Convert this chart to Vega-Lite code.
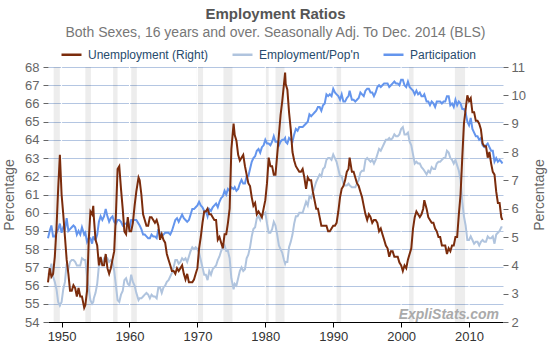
{
"$schema": "https://vega.github.io/schema/vega-lite/v6.json",
"width": 455, "height": 255,
"autosize": {"type": "none"},
"padding": {"left": 48, "top": 67, "right": 50, "bottom": 23},
"background": "#ffffff",
"title": {"text": "Employment Ratios", "subtitle": "Both Sexes, 16 years and over. Seasonally Adj. To Dec. 2014 (BLS)", "anchor": "middle", "frame": "group", "fontSize": 15, "fontWeight": "bold", "color": "#555555", "subtitleFontSize": 14, "subtitleColor": "#777777", "subtitlePadding": 4, "offset": 3},
"datasets": {
"rec": [
{"s":"1948-11","e":"1949-10"},{"s":"1953-07","e":"1954-05"},{"s":"1957-08","e":"1958-04"},{"s":"1960-04","e":"1961-02"},{"s":"1969-12","e":"1970-11"},{"s":"1973-11","e":"1975-03"},{"s":"1980-01","e":"1980-07"},{"s":"1981-07","e":"1982-11"},{"s":"1990-07","e":"1991-03"},{"s":"2001-03","e":"2001-11"},{"s":"2007-12","e":"2009-06"}],
"dec": [{"g":"1950-01"},{"g":"1960-01"},{"g":"1970-01"},{"g":"1980-01"},{"g":"1990-01"},{"g":"2000-01"},{"g":"2010-01"}],
"mark": [{"t":"ExpliStats.com"}],
"series": [
{"d":"1948-01","u":3.4,"p":58.6,"e":56.6},
{"d":"1948-04","u":3.9,"p":59.0,"e":56.7},
{"d":"1948-07","u":3.6,"p":59.3,"e":57.2},
{"d":"1948-10","u":3.7,"p":58.7,"e":56.5},
{"d":"1949-01","u":4.3,"p":58.7,"e":56.2},
{"d":"1949-04","u":5.3,"p":58.9,"e":55.8},
{"d":"1949-07","u":6.7,"p":59.1,"e":55.1},
{"d":"1949-10","u":7.9,"p":59.4,"e":54.9},
{"d":"1950-01","u":6.5,"p":58.9,"e":55.1},
{"d":"1950-04","u":5.8,"p":59.2,"e":55.8},
{"d":"1950-07","u":5.0,"p":59.1,"e":56.2},
{"d":"1950-10","u":4.2,"p":59.7,"e":57.2},
{"d":"1951-01","u":3.7,"p":59.0,"e":56.9},
{"d":"1951-04","u":3.1,"p":59.1,"e":57.3},
{"d":"1951-07","u":3.1,"p":59.2,"e":57.4},
{"d":"1951-10","u":3.3,"p":59.3,"e":57.4},
{"d":"1952-01","u":3.2,"p":59.2,"e":57.3},
{"d":"1952-04","u":2.9,"p":58.8,"e":57.1},
{"d":"1952-07","u":3.2,"p":59.0,"e":57.1},
{"d":"1952-10","u":2.9,"p":58.8,"e":57.1},
{"d":"1953-01","u":2.9,"p":59.2,"e":57.5},
{"d":"1953-05","u":2.5,"p":58.8,"e":57.4},
{"d":"1953-07","u":2.6,"p":58.9,"e":57.4},
{"d":"1953-10","u":3.1,"p":58.4,"e":56.5},
{"d":"1954-01","u":4.9,"p":58.6,"e":55.8},
{"d":"1954-04","u":5.9,"p":58.6,"e":55.2},
{"d":"1954-07","u":5.8,"p":58.3,"e":55.0},
{"d":"1954-09","u":6.1,"p":58.7,"e":55.1},
{"d":"1954-10","u":5.7,"p":58.6,"e":55.3},
{"d":"1955-01","u":4.9,"p":58.5,"e":55.6},
{"d":"1955-04","u":4.7,"p":58.8,"e":56.1},
{"d":"1955-07","u":4.0,"p":59.5,"e":57.1},
{"d":"1955-10","u":4.3,"p":59.8,"e":57.2},
{"d":"1956-01","u":4.0,"p":59.6,"e":57.2},
{"d":"1956-04","u":4.0,"p":59.8,"e":57.5},
{"d":"1956-07","u":4.4,"p":60.2,"e":57.6},
{"d":"1956-10","u":3.9,"p":59.8,"e":57.5},
{"d":"1957-01","u":3.7,"p":59.5,"e":57.3},
{"d":"1957-04","u":3.9,"p":59.7,"e":57.4},
{"d":"1957-07","u":4.2,"p":59.8,"e":57.3},
{"d":"1957-10","u":4.5,"p":59.5,"e":56.8},
{"d":"1958-01","u":5.8,"p":59.4,"e":56.0},
{"d":"1958-04","u":7.4,"p":59.6,"e":55.2},
{"d":"1958-07","u":7.5,"p":59.6,"e":55.1},
{"d":"1958-10","u":6.7,"p":59.5,"e":55.5},
{"d":"1959-01","u":6.0,"p":59.3,"e":55.7},
{"d":"1959-04","u":5.2,"p":59.4,"e":56.3},
{"d":"1959-07","u":5.1,"p":59.4,"e":56.4},
{"d":"1959-10","u":5.7,"p":59.5,"e":56.1},
{"d":"1960-01","u":5.2,"p":59.1,"e":56.0},
{"d":"1960-04","u":5.2,"p":59.6,"e":56.6},
{"d":"1960-07","u":5.5,"p":59.6,"e":56.2},
{"d":"1960-10","u":6.1,"p":59.6,"e":56.0},
{"d":"1961-01","u":6.6,"p":59.6,"e":55.6},
{"d":"1961-05","u":7.1,"p":59.4,"e":55.2},
{"d":"1961-07","u":7.0,"p":59.3,"e":55.3},
{"d":"1961-10","u":6.5,"p":59.1,"e":55.3},
{"d":"1962-01","u":5.8,"p":58.8,"e":55.4},
{"d":"1962-04","u":5.6,"p":58.8,"e":55.5},
{"d":"1962-07","u":5.4,"p":58.7,"e":55.6},
{"d":"1962-10","u":5.4,"p":58.6,"e":55.5},
{"d":"1963-01","u":5.7,"p":58.6,"e":55.3},
{"d":"1963-04","u":5.7,"p":58.8,"e":55.5},
{"d":"1963-07","u":5.6,"p":58.7,"e":55.4},
{"d":"1963-10","u":5.5,"p":58.7,"e":55.4},
{"d":"1964-01","u":5.6,"p":58.6,"e":55.3},
{"d":"1964-04","u":5.4,"p":59.1,"e":55.9},
{"d":"1964-07","u":4.9,"p":58.8,"e":55.9},
{"d":"1964-10","u":5.1,"p":58.7,"e":55.6},
{"d":"1965-01","u":4.9,"p":58.8,"e":55.9},
{"d":"1965-04","u":4.8,"p":58.9,"e":56.0},
{"d":"1965-07","u":4.4,"p":58.9,"e":56.2},
{"d":"1965-10","u":4.2,"p":58.9,"e":56.3},
{"d":"1966-01","u":4.0,"p":58.8,"e":56.5},
{"d":"1966-04","u":3.8,"p":59.0,"e":56.7},
{"d":"1966-07","u":3.8,"p":59.3,"e":57.0},
{"d":"1966-10","u":3.7,"p":59.6,"e":57.4},
{"d":"1967-01","u":3.9,"p":59.7,"e":57.4},
{"d":"1967-04","u":3.8,"p":59.5,"e":57.2},
{"d":"1967-07","u":3.9,"p":59.7,"e":57.3},
{"d":"1967-10","u":4.0,"p":59.9,"e":57.5},
{"d":"1968-01","u":3.7,"p":59.7,"e":57.4},
{"d":"1968-04","u":3.5,"p":59.6,"e":57.5},
{"d":"1968-07","u":3.7,"p":59.5,"e":57.3},
{"d":"1968-10","u":3.4,"p":59.6,"e":57.6},
{"d":"1969-01","u":3.4,"p":59.9,"e":57.9},
{"d":"1969-04","u":3.4,"p":60.2,"e":58.1},
{"d":"1969-07","u":3.5,"p":60.2,"e":58.0},
{"d":"1969-10","u":3.7,"p":60.3,"e":58.1},
{"d":"1970-01","u":3.9,"p":60.4,"e":58.0},
{"d":"1970-04","u":4.6,"p":60.6,"e":57.8},
{"d":"1970-07","u":5.0,"p":60.4,"e":57.4},
{"d":"1970-10","u":5.5,"p":60.3,"e":57.0},
{"d":"1971-01","u":5.9,"p":60.1,"e":56.6},
{"d":"1971-04","u":5.9,"p":60.1,"e":56.6},
{"d":"1971-07","u":6.0,"p":59.8,"e":56.3},
{"d":"1971-10","u":5.8,"p":60.2,"e":56.8},
{"d":"1972-01","u":5.8,"p":60.1,"e":56.6},
{"d":"1972-04","u":5.7,"p":60.3,"e":56.9},
{"d":"1972-07","u":5.6,"p":60.4,"e":57.0},
{"d":"1972-10","u":5.6,"p":60.5,"e":57.1},
{"d":"1973-01","u":4.9,"p":60.3,"e":57.4},
{"d":"1973-04","u":5.0,"p":60.6,"e":57.6},
{"d":"1973-07","u":4.8,"p":60.8,"e":57.9},
{"d":"1973-10","u":4.6,"p":60.9,"e":58.1},
{"d":"1974-01","u":5.1,"p":61.2,"e":58.2},
{"d":"1974-04","u":5.1,"p":61.0,"e":57.9},
{"d":"1974-07","u":5.5,"p":61.3,"e":57.9},
{"d":"1974-10","u":6.0,"p":61.2,"e":57.5},
{"d":"1975-01","u":8.1,"p":61.4,"e":56.4},
{"d":"1975-05","u":9.0,"p":61.3,"e":55.8},
{"d":"1975-07","u":8.6,"p":61.4,"e":56.1},
{"d":"1975-10","u":8.4,"p":61.2,"e":56.0},
{"d":"1976-01","u":7.9,"p":61.3,"e":56.4},
{"d":"1976-04","u":7.7,"p":61.6,"e":56.8},
{"d":"1976-07","u":7.8,"p":61.8,"e":57.0},
{"d":"1976-10","u":7.9,"p":61.6,"e":56.8},
{"d":"1977-01","u":7.5,"p":61.6,"e":56.9},
{"d":"1977-04","u":7.2,"p":62.0,"e":57.5},
{"d":"1977-07","u":6.9,"p":62.0,"e":57.7},
{"d":"1977-10","u":6.8,"p":62.4,"e":58.1},
{"d":"1978-01","u":6.4,"p":62.8,"e":58.7},
{"d":"1978-04","u":6.1,"p":63.0,"e":59.1},
{"d":"1978-07","u":6.2,"p":63.1,"e":59.2},
{"d":"1978-10","u":5.8,"p":63.4,"e":59.7},
{"d":"1979-01","u":5.9,"p":63.5,"e":59.8},
{"d":"1979-04","u":5.8,"p":63.3,"e":59.6},
{"d":"1979-07","u":5.7,"p":63.6,"e":59.9},
{"d":"1979-10","u":6.0,"p":63.7,"e":59.9},
{"d":"1980-01","u":6.3,"p":64.0,"e":60.0},
{"d":"1980-04","u":6.9,"p":63.8,"e":59.4},
{"d":"1980-07","u":7.8,"p":63.8,"e":58.9},
{"d":"1980-10","u":7.5,"p":63.7,"e":58.9},
{"d":"1981-01","u":7.5,"p":63.9,"e":59.1},
{"d":"1981-04","u":7.2,"p":64.2,"e":59.5},
{"d":"1981-07","u":7.2,"p":63.9,"e":59.3},
{"d":"1981-10","u":7.9,"p":63.9,"e":58.8},
{"d":"1982-01","u":8.6,"p":63.7,"e":58.2},
{"d":"1982-04","u":9.3,"p":63.9,"e":58.0},
{"d":"1982-07","u":9.8,"p":64.0,"e":57.8},
{"d":"1982-10","u":10.4,"p":64.0,"e":57.4},
{"d":"1982-12","u":10.8,"p":64.1,"e":57.2},
{"d":"1983-01","u":10.4,"p":63.9,"e":57.3},
{"d":"1983-04","u":10.2,"p":63.8,"e":57.3},
{"d":"1983-07","u":9.4,"p":64.1,"e":58.1},
{"d":"1983-10","u":8.8,"p":64.0,"e":58.4},
{"d":"1984-01","u":8.0,"p":63.9,"e":58.8},
{"d":"1984-04","u":7.7,"p":64.3,"e":59.4},
{"d":"1984-07","u":7.5,"p":64.6,"e":59.8},
{"d":"1984-10","u":7.4,"p":64.5,"e":59.8},
{"d":"1985-01","u":7.3,"p":64.7,"e":60.0},
{"d":"1985-04","u":7.3,"p":64.7,"e":60.0},
{"d":"1985-07","u":7.4,"p":64.7,"e":60.0},
{"d":"1985-10","u":7.1,"p":64.8,"e":60.3},
{"d":"1986-01","u":6.7,"p":64.9,"e":60.6},
{"d":"1986-04","u":7.1,"p":65.0,"e":60.4},
{"d":"1986-07","u":7.0,"p":65.4,"e":60.9},
{"d":"1986-10","u":7.0,"p":65.3,"e":60.8},
{"d":"1987-01","u":6.6,"p":65.4,"e":61.1},
{"d":"1987-04","u":6.3,"p":65.5,"e":61.4},
{"d":"1987-07","u":6.0,"p":65.6,"e":61.7},
{"d":"1987-10","u":6.0,"p":65.8,"e":61.9},
{"d":"1988-01","u":5.7,"p":65.8,"e":62.1},
{"d":"1988-04","u":5.4,"p":65.6,"e":62.0},
{"d":"1988-07","u":5.4,"p":65.9,"e":62.4},
{"d":"1988-10","u":5.4,"p":66.0,"e":62.5},
{"d":"1989-01","u":5.4,"p":66.5,"e":62.9},
{"d":"1989-04","u":5.2,"p":66.4,"e":63.0},
{"d":"1989-07","u":5.2,"p":66.5,"e":63.0},
{"d":"1989-10","u":5.3,"p":66.4,"e":62.9},
{"d":"1990-01","u":5.4,"p":66.8,"e":63.2},
{"d":"1990-04","u":5.4,"p":66.6,"e":63.0},
{"d":"1990-07","u":5.5,"p":66.5,"e":62.8},
{"d":"1990-10","u":5.9,"p":66.4,"e":62.4},
{"d":"1991-01","u":6.4,"p":66.2,"e":62.0},
{"d":"1991-04","u":6.7,"p":66.5,"e":62.0},
{"d":"1991-07","u":6.8,"p":66.1,"e":61.6},
{"d":"1991-10","u":7.0,"p":66.1,"e":61.5},
{"d":"1992-01","u":7.3,"p":66.3,"e":61.5},
{"d":"1992-04","u":7.4,"p":66.4,"e":61.6},
{"d":"1992-06","u":7.8,"p":66.7,"e":61.5},
{"d":"1992-10","u":7.3,"p":66.2,"e":61.4},
{"d":"1993-01","u":7.3,"p":66.2,"e":61.4},
{"d":"1993-04","u":7.1,"p":66.1,"e":61.4},
{"d":"1993-07","u":6.9,"p":66.2,"e":61.6},
{"d":"1993-10","u":6.8,"p":66.3,"e":61.8},
{"d":"1994-01","u":6.6,"p":66.6,"e":62.2},
{"d":"1994-04","u":6.4,"p":66.5,"e":62.3},
{"d":"1994-07","u":6.1,"p":66.4,"e":62.3},
{"d":"1994-10","u":5.8,"p":66.7,"e":62.9},
{"d":"1995-01","u":5.6,"p":66.8,"e":63.0},
{"d":"1995-04","u":5.8,"p":66.8,"e":62.9},
{"d":"1995-07","u":5.7,"p":66.6,"e":62.8},
{"d":"1995-10","u":5.5,"p":66.6,"e":62.9},
{"d":"1996-01","u":5.6,"p":66.4,"e":62.7},
{"d":"1996-04","u":5.6,"p":66.6,"e":62.9},
{"d":"1996-07","u":5.5,"p":66.9,"e":63.2},
{"d":"1996-10","u":5.2,"p":67.0,"e":63.5},
{"d":"1997-01","u":5.3,"p":66.9,"e":63.4},
{"d":"1997-04","u":5.1,"p":67.0,"e":63.6},
{"d":"1997-07","u":4.9,"p":67.1,"e":63.8},
{"d":"1997-10","u":4.7,"p":67.1,"e":64.0},
{"d":"1998-01","u":4.6,"p":67.1,"e":64.0},
{"d":"1998-04","u":4.3,"p":66.9,"e":64.1},
{"d":"1998-07","u":4.5,"p":67.0,"e":64.0},
{"d":"1998-10","u":4.5,"p":67.1,"e":64.1},
{"d":"1999-01","u":4.3,"p":67.2,"e":64.3},
{"d":"1999-04","u":4.3,"p":67.1,"e":64.2},
{"d":"1999-07","u":4.3,"p":67.1,"e":64.2},
{"d":"1999-10","u":4.1,"p":67.0,"e":64.3},
{"d":"2000-01","u":4.0,"p":67.3,"e":64.6},
{"d":"2000-04","u":3.8,"p":67.3,"e":64.7},
{"d":"2000-07","u":4.0,"p":67.0,"e":64.3},
{"d":"2000-10","u":3.9,"p":66.9,"e":64.3},
{"d":"2001-01","u":4.2,"p":67.2,"e":64.4},
{"d":"2001-04","u":4.4,"p":66.9,"e":63.9},
{"d":"2001-07","u":4.6,"p":66.8,"e":63.7},
{"d":"2001-10","u":5.3,"p":66.7,"e":63.2},
{"d":"2002-01","u":5.7,"p":66.5,"e":62.7},
{"d":"2002-04","u":5.9,"p":66.7,"e":62.8},
{"d":"2002-07","u":5.8,"p":66.5,"e":62.7},
{"d":"2002-10","u":5.7,"p":66.6,"e":62.7},
{"d":"2003-01","u":5.8,"p":66.4,"e":62.5},
{"d":"2003-04","u":6.0,"p":66.4,"e":62.4},
{"d":"2003-06","u":6.3,"p":66.5,"e":62.3},
{"d":"2003-10","u":6.0,"p":66.1,"e":62.1},
{"d":"2004-01","u":5.7,"p":66.1,"e":62.3},
{"d":"2004-04","u":5.6,"p":65.9,"e":62.2},
{"d":"2004-07","u":5.5,"p":66.1,"e":62.5},
{"d":"2004-10","u":5.5,"p":66.0,"e":62.4},
{"d":"2005-01","u":5.3,"p":65.8,"e":62.4},
{"d":"2005-04","u":5.2,"p":66.1,"e":62.7},
{"d":"2005-07","u":5.0,"p":66.1,"e":62.8},
{"d":"2005-10","u":5.0,"p":66.1,"e":62.8},
{"d":"2006-01","u":4.7,"p":66.0,"e":62.9},
{"d":"2006-04","u":4.7,"p":66.1,"e":63.0},
{"d":"2006-07","u":4.7,"p":66.1,"e":63.0},
{"d":"2006-10","u":4.4,"p":66.4,"e":63.4},
{"d":"2007-01","u":4.6,"p":66.4,"e":63.3},
{"d":"2007-04","u":4.5,"p":65.9,"e":63.0},
{"d":"2007-07","u":4.7,"p":66.0,"e":62.9},
{"d":"2007-10","u":4.7,"p":65.8,"e":62.7},
{"d":"2008-01","u":5.0,"p":66.2,"e":62.9},
{"d":"2008-04","u":5.0,"p":65.9,"e":62.6},
{"d":"2008-07","u":5.8,"p":66.1,"e":62.3},
{"d":"2008-10","u":6.5,"p":66.0,"e":61.8},
{"d":"2009-01","u":7.8,"p":65.7,"e":60.6},
{"d":"2009-04","u":9.0,"p":65.7,"e":59.8},
{"d":"2009-07","u":9.5,"p":65.5,"e":59.3},
{"d":"2009-10","u":10.0,"p":65.0,"e":58.5},
{"d":"2010-01","u":9.8,"p":64.8,"e":58.5},
{"d":"2010-04","u":9.9,"p":65.2,"e":58.7},
{"d":"2010-07","u":9.4,"p":64.6,"e":58.5},
{"d":"2010-10","u":9.4,"p":64.4,"e":58.3},
{"d":"2011-01","u":9.1,"p":64.2,"e":58.4},
{"d":"2011-04","u":9.1,"p":64.2,"e":58.4},
{"d":"2011-07","u":9.0,"p":64.0,"e":58.2},
{"d":"2011-10","u":8.8,"p":64.1,"e":58.4},
{"d":"2012-01","u":8.3,"p":63.7,"e":58.5},
{"d":"2012-04","u":8.2,"p":63.6,"e":58.4},
{"d":"2012-07","u":8.2,"p":63.7,"e":58.4},
{"d":"2012-10","u":7.8,"p":63.8,"e":58.7},
{"d":"2013-01","u":8.0,"p":63.6,"e":58.6},
{"d":"2013-04","u":7.6,"p":63.4,"e":58.6},
{"d":"2013-07","u":7.3,"p":63.4,"e":58.7},
{"d":"2013-10","u":7.2,"p":62.8,"e":58.3},
{"d":"2014-01","u":6.6,"p":63.0,"e":58.8},
{"d":"2014-04","u":6.2,"p":62.8,"e":58.9},
{"d":"2014-07","u":6.2,"p":62.9,"e":59.0},
{"d":"2014-10","u":5.7,"p":62.8,"e":59.2},
{"d":"2014-12","u":5.6,"p":62.7,"e":59.2}
]},
"layer": [
{"data": {"name": "rec"},
 "mark": {"type": "rect", "fill": "#000000", "fillOpacity": 0.07},
 "encoding": {
  "x": {"field": "s", "type": "temporal",
   "scale": {"type": "utc", "domain": [{"year": 1948, "month": 1, "date": 1, "utc": true}, {"year": 2015, "month": 1, "date": 1, "utc": true}]},
   "axis": {"title": null, "grid": false, "domain": true, "domainColor": "#000000", "ticks": true, "tickColor": "#000000", "tickSize": 5, "labelFontSize": 13, "labelColor": "#333333", "labelPadding": 3, "format": "%Y", "tickCount": {"interval": "year", "step": 10}}},
  "x2": {"field": "e"}}},
{"data": {"name": "dec"},
 "mark": {"type": "rule", "color": "#ffffff", "strokeWidth": 1},
 "encoding": {"x": {"field": "g", "type": "temporal"}}},
{"data": {"name": "series"},
 "mark": {"type": "line", "strokeWidth": 2},
 "encoding": {
  "x": {"field": "d", "type": "temporal"},
  "y": {"field": "e", "type": "quantitative", "scale": {"domain": [54, 68], "nice": false, "zero": false},
   "axis": {"orient": "left", "values": [54,55,56,57,58,59,60,61,62,63,64,65,66,67,68], "grid": true, "gridColor": "#B4C6E2", "domain": false, "tickSize": 5, "tickColor": "#666666", "labelFontSize": 13, "labelColor": "#666666", "labelPadding": 4, "title": "Percentage", "titleFontSize": 14, "titleFontWeight": "normal", "titleColor": "#666666", "titlePadding": 8}},
  "color": {"datum": "Employment/Pop'n", "type": "nominal",
   "scale": {"domain": ["Unemployment (Right)", "Employment/Pop'n", "Participation"], "range": ["#7B2C0C", "#B0C4DE", "#6495ED"]},
   "legend": {"orient": "none", "legendX": 12, "legendY": -24, "direction": "horizontal", "title": null, "symbolType": "stroke", "symbolStrokeWidth": 2.5, "symbolSize": 400, "labelFontSize": 12, "labelColor": "#274B6D", "labelOffset": 5, "columnPadding": 18}}}},
{"data": {"name": "series"},
 "mark": {"type": "line", "strokeWidth": 2},
 "encoding": {
  "x": {"field": "d", "type": "temporal"},
  "y": {"field": "p", "type": "quantitative", "scale": {"domain": [54, 68], "nice": false, "zero": false}, "axis": null},
  "color": {"datum": "Participation", "type": "nominal"}}},
{"data": {"name": "series"},
 "mark": {"type": "line", "strokeWidth": 2},
 "encoding": {
  "x": {"field": "d", "type": "temporal"},
  "y": {"field": "u", "type": "quantitative", "scale": {"domain": [2, 11], "nice": false, "zero": false},
   "axis": {"orient": "right", "values": [2,3,4,5,6,7,8,9,10,11], "grid": false, "domain": false, "tickSize": 5, "tickColor": "#666666", "labelFontSize": 13, "labelColor": "#666666", "labelPadding": 3, "title": "Percentage", "titleFontSize": 14, "titleFontWeight": "normal", "titleColor": "#666666", "titleAngle": 270, "titleBaseline": "top", "titlePadding": 7}},
  "color": {"datum": "Unemployment (Right)", "type": "nominal"}}},
{"data": {"name": "mark"},
 "mark": {"type": "text", "align": "right", "baseline": "alphabetic", "fontSize": 14, "fontStyle": "italic", "fontWeight": "bold", "color": "#AAAAAA"},
 "encoding": {
  "text": {"field": "t"},
  "x": {"datum": {"year": 2014, "month": 6, "date": 1, "utc": true}, "type": "temporal"},
  "y": {"datum": 54.18, "type": "quantitative", "scale": {"domain": [54, 68], "nice": false, "zero": false}, "axis": null}}}
],
"resolve": {"scale": {"y": "independent"}, "axis": {"y": "independent"}},
"config": {"font": "Liberation Sans", "view": {"stroke": null}}
}
